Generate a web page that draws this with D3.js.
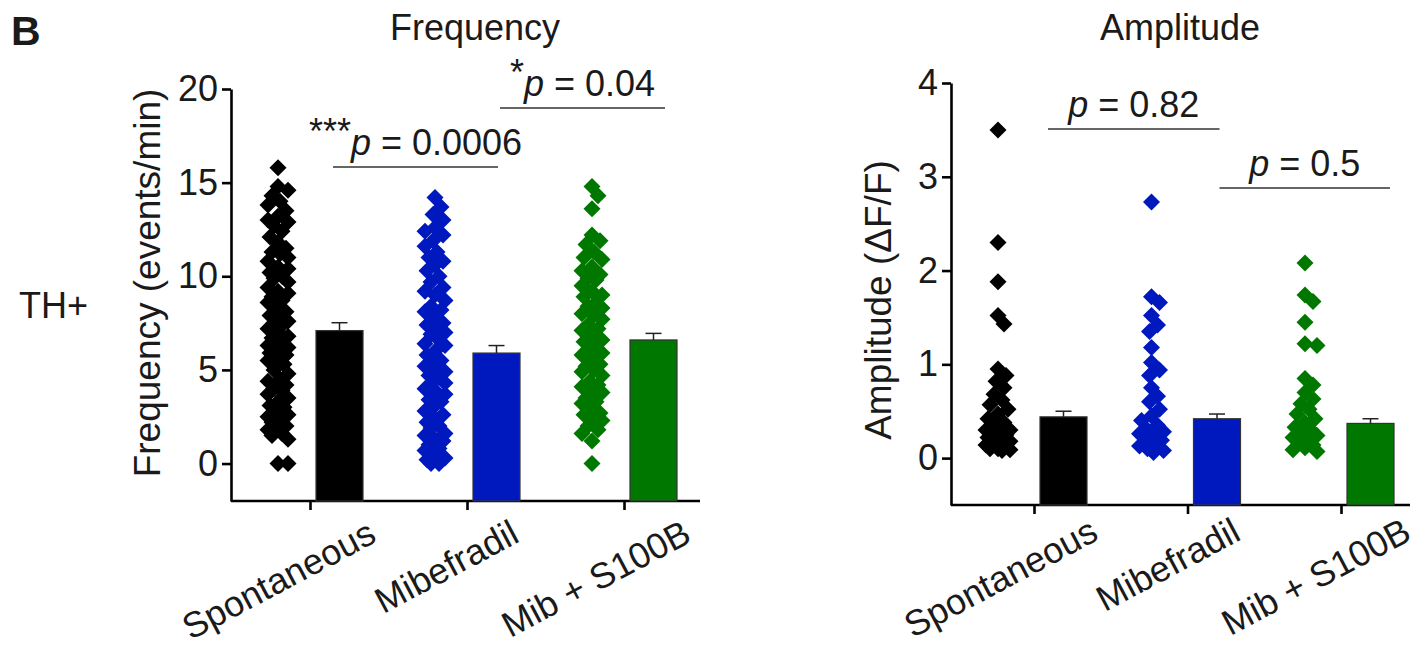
<!DOCTYPE html>
<html><head><meta charset="utf-8">
<script src="https://cdn.jsdelivr.net/npm/d3@7"></script>
<style>
html,body{margin:0;padding:0;background:#fff;}
svg text{font-family:"Liberation Sans",Arial,sans-serif;fill:#1a1a1a;}
</style></head>
<body>
<svg id="chart" width="1420" height="651"></svg>
<script>
// ---------- DATA ----------
const categories = ["Spontaneous", "Mibefradil", "Mib + S100B"];
const colors = ["#000000", "#0019BE", "#007800"];

// Frequency (events/min) individual cells
const freqSpontaneous = [15.8,14.8,14.6,14.3,14.0,13.8,13.5,13.2,13.0,12.7,12.4,12.1,11.8,11.5,11.2,11.0,10.8,10.5,10.2,10.0,9.7,9.4,9.1,8.9,8.6,8.3,8.1,7.9,7.6,7.4,7.2,7.0,6.8,6.5,6.3,6.1,5.8,5.6,5.3,5.0,4.8,4.5,4.2,4.0,3.7,3.5,3.3,3.0,2.8,2.5,2.3,2.0,1.8,1.5,1.3,0.0,0.0,6.0,5.5,3.1,2.6,1.6,7.8,9.9,12.9,11.3,10.4,8.7,7.5,6.7,5.9,4.4,3.9,2.2,1.9,9.2,6.2];
const freqMibefradil = [14.2,13.7,13.3,13.0,12.6,12.2,11.9,11.6,11.3,11.0,10.6,10.3,10.0,9.7,9.4,9.0,8.7,8.4,8.1,7.8,7.5,7.2,6.9,6.6,6.3,6.0,5.8,5.5,5.2,4.9,4.6,4.3,4.0,3.7,3.4,3.1,2.8,2.5,2.2,1.9,1.6,1.3,1.0,0.7,0.4,0.0,0.0,0.3,1.2,2.0,3.3,4.4,5.1,6.4,7.0,12.4,10.8,9.2,8.2,7.4,5.4,4.7,3.8,2.6,1.5,0.8,0.2];
const freqMibS100B = [14.8,14.3,13.6,12.2,11.7,11.3,10.9,10.5,10.1,9.8,9.5,9.2,8.9,8.6,8.3,8.0,7.7,7.4,7.1,6.8,6.5,6.2,5.9,5.6,5.3,5.0,4.7,4.4,4.1,3.8,3.5,3.2,2.9,2.6,2.3,2.0,1.6,1.2,0.0,9.9,8.4,7.2,6.1,5.2,3.9,2.7,11.0,11.9,10.3,9.0,7.9,6.6,5.8,4.9,4.2,3.3,2.4,1.8];
const freqMean = [7.1, 5.9, 6.6];
const freqSEM  = [0.42, 0.40, 0.35];

// Amplitude (dF/F) individual cells
const ampSpontaneous = [3.5,2.3,1.88,1.52,1.43,0.95,0.88,0.82,0.75,0.68,0.62,0.57,0.52,0.47,0.42,0.38,0.34,0.30,0.28,0.26,0.24,0.22,0.20,0.18,0.16,0.14,0.12,0.10,0.10,0.09,0.08,0.30,0.25];
const ampMibefradil = [2.73,1.72,1.66,1.52,1.42,1.35,1.18,1.02,0.94,0.88,0.75,0.66,0.60,0.52,0.45,0.40,0.35,0.30,0.26,0.22,0.19,0.16,0.13,0.10,0.08,0.06,0.28,0.20,0.12];
const ampMibS100B = [2.08,1.74,1.67,1.45,1.22,1.20,0.85,0.78,0.70,0.63,0.58,0.52,0.47,0.42,0.38,0.33,0.28,0.24,0.20,0.17,0.14,0.11,0.09,0.07,0.30,0.22];
const ampMean = [0.44, 0.42, 0.37];
const ampSEM  = [0.06, 0.05, 0.05];

const freqTicks = [0, 5, 10, 15, 20];
const ampTicks = [0, 1, 2, 3, 4];

const freqComparisons = [
  {from: 0, to: 1, stars: "***", label: "p = 0.0006"},
  {from: 1, to: 2, stars: "*", label: "p = 0.04"}
];
const ampComparisons = [
  {from: 0, to: 1, stars: "", label: "p = 0.82"},
  {from: 1, to: 2, stars: "", label: "p = 0.5"}
];

// ---------- DRAW ----------
const svg = d3.select("#chart");
const FS = 36;

svg.append("text").attr("x", 11).attr("y", 45)
  .attr("font-size", 41).attr("font-weight", "bold").text("B");
svg.append("text").attr("x", 19).attr("y", 318)
  .attr("font-size", FS).text("TH+");

function diamond(r){ return `M0,${-r}L${r},0L0,${r}L${-r},0Z`; }

function dodge(values, y, r, maxOff){
  const order = values.map((v,i)=>i).sort((a,b)=>values[b]-values[a]);
  const placed = [];
  const offs = new Array(values.length).fill(0);
  const cands = [0];
  for (let k = 2; k <= maxOff; k += 2) { cands.push(k, -k); }
  order.forEach(i => {
    const py = y(values[i]);
    let best = 0, bestScore = -Infinity;
    for (const c of cands) {
      let minD = Infinity;
      for (const p of placed) {
        const d = Math.abs(p.x - c) + Math.abs(p.y - py);
        if (d < minD) minD = d;
      }
      if (minD >= 2*r*0.8) { best = c; bestScore = Infinity; break; }
      if (minD > bestScore) { bestScore = minD; best = c; }
    }
    offs[i] = best;
    placed.push({x: best, y: py});
  });
  return offs;
}

function panel(cfg){
  const g = svg.append("g");
  const y = d3.scaleLinear().domain(cfg.domain).range([cfg.bottom, cfg.top]);
  const x = d3.scalePoint().domain(categories).range(cfg.xr);

  // y axis
  const yAx = g.append("g").attr("transform", `translate(${cfg.left},0)`)
    .call(d3.axisLeft(y).tickValues(cfg.ticks).tickFormat(d3.format("d")).tickSize(9).tickPadding(4).tickSizeOuter(0));
  yAx.select(".domain").attr("stroke", "#000").attr("stroke-width", 2.6);
  yAx.selectAll(".tick line").attr("stroke", "#000").attr("stroke-width", 2.6);
  yAx.selectAll(".tick text").attr("font-size", FS).attr("font-family", "Liberation Sans, Arial, sans-serif").attr("fill", "#1a1a1a");

  // x axis
  const xAx = g.append("g").attr("transform", `translate(0,${cfg.bottom})`)
    .call(d3.axisBottom(x).tickSize(9).tickSizeOuter(0).tickFormat(""));
  xAx.select(".domain").attr("d", `M${cfg.left},0H${cfg.right}`).attr("stroke", "#000").attr("stroke-width", 2.6);
  xAx.selectAll(".tick line").attr("stroke", "#000").attr("stroke-width", 2.6);

  categories.forEach((c, i) => {
    g.append("text")
      .attr("transform", `translate(${x(c) + cfg.labOff[i]},${cfg.bottom + cfg.labY}) rotate(-28)`)
      .attr("text-anchor", "end").attr("dy", "0.72em")
      .attr("font-size", FS).text(c);
  });

  // bars
  const bw = 47;
  categories.forEach((c, i) => {
    const bx = x(c) + 6;
    g.append("rect").attr("x", bx).attr("y", y(cfg.mean[i]))
      .attr("width", bw).attr("height", cfg.bottom - y(cfg.mean[i]))
      .attr("fill", colors[i]).attr("stroke", "#333").attr("stroke-width", 1.2);
    const cx = bx + bw/2;
    g.append("line").attr("x1", cx).attr("x2", cx)
      .attr("y1", y(cfg.mean[i])).attr("y2", y(cfg.mean[i] + cfg.sem[i]))
      .attr("stroke", "#222").attr("stroke-width", 1.5);
    g.append("line").attr("x1", cx - 8).attr("x2", cx + 8)
      .attr("y1", y(cfg.mean[i] + cfg.sem[i])).attr("y2", y(cfg.mean[i] + cfg.sem[i]))
      .attr("stroke", "#222").attr("stroke-width", 1.5);
  });

  // scatter
  const r = 8.5;
  cfg.points.forEach((vals, i) => {
    const offs = dodge(vals, y, r, cfg.maxOff);
    const cx = x(categories[i]) + cfg.dotOff;
    g.append("g").selectAll("path").data(vals).join("path")
      .attr("d", diamond(r))
      .attr("transform", (v, j) => `translate(${cx + offs[j]},${y(v)})`)
      .attr("fill", colors[i]);
  });

  // title
  svg.append("text").attr("x", cfg.titleX).attr("y", 40)
    .attr("text-anchor", "middle").attr("font-size", FS).text(cfg.title);

  // y label
  svg.append("text")
    .attr("transform", `translate(${cfg.ylabX},${cfg.ylabY}) rotate(-90)`)
    .attr("text-anchor", "middle").attr("font-size", 37).text(cfg.ylab);

  // comparisons
  cfg.comps.forEach((cp, k) => {
    const lay = cfg.compLayout[k];
    const x1 = x(categories[cp.from]) + lay.a, x2 = x(categories[cp.to]) + lay.b;
    const ly = lay.y;
    g.append("line").attr("x1", x1).attr("x2", x2).attr("y1", ly).attr("y2", ly)
      .attr("stroke", "#333").attr("stroke-width", 1.3);
    const t = g.append("text").attr("x", (x1 + x2)/2).attr("y", ly - 12)
      .attr("text-anchor", "middle").attr("font-size", FS);
    if (cp.stars) t.append("tspan").attr("dy", -11).text(cp.stars);
    t.append("tspan").attr("dy", cp.stars ? 11 : 0).attr("font-style", "italic").text("p");
    t.append("tspan").text(cp.label.slice(1));
  });
}

panel({
  domain: [-2, 20], top: 89, bottom: 501, left: 231, right: 700,
  xr: [310, 624], ticks: freqTicks, mean: freqMean, sem: freqSEM,
  points: [freqSpontaneous, freqMibefradil, freqMibS100B],
  maxOff: 10, dotOff: -32, labOff: [56, 42, 57], labY: 17,
  title: "Frequency", titleX: 475, ylab: "Frequency (events/min)", ylabX: 160, ylabY: 283,
  comps: freqComparisons,
  compLayout: [{a: 23, b: 31, y: 167}, {a: 33, b: 41, y: 108}]
});

panel({
  domain: [-0.5, 4], top: 83, bottom: 505, left: 951, right: 1410,
  xr: [1034, 1341], ticks: ampTicks, mean: ampMean, sem: ampSEM,
  points: [ampSpontaneous, ampMibefradil, ampMibS100B],
  maxOff: 12, dotOff: -36, labOff: [54, 43, 60], labY: 11,
  title: "Amplitude", titleX: 1180, ylab: "Amplitude (\u0394F/F)", ylabX: 891, ylabY: 300,
  comps: ampComparisons,
  compLayout: [{a: 14, b: 32, y: 129}, {a: 32, b: 49, y: 188}]
});
</script>
</body></html>
